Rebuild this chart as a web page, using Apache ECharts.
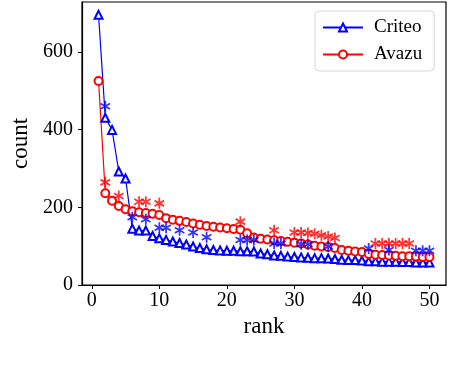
<!DOCTYPE html>
<html>
<head>
<meta charset="utf-8">
<script src="https://cdn.jsdelivr.net/npm/echarts@6/dist/echarts.min.js"></script>
<style>
  html, body { margin: 0; padding: 0; background: #fff; }
  #chart { width: 464px; height: 368px; }
</style>
</head>
<body>
<div id="chart"></div>
<script>
// rank on x, count on y
const ranks = [1, 2, 3, 4, 5, 6, 7, 8, 9, 10, 11, 12, 13, 14, 15, 16, 17, 18, 19, 20,
  21, 22, 23, 24, 25, 26, 27, 28, 29, 30, 31, 32, 33, 34, 35, 36, 37, 38, 39, 40,
  41, 42, 43, 44, 45, 46, 47, 48, 49, 50];
const criteo = [695, 430, 399, 292, 274, 145, 140, 140, 126, 120, 116, 112, 108, 104, 99, 95, 92, 90, 89, 88,
  88, 87, 87, 86, 81, 79, 76, 75, 73, 72, 71, 70, 69, 69, 68, 67, 65, 64, 64, 63,
  61, 61, 60, 60, 60, 59, 59, 58, 58, 58];
const avazu = [525, 236, 217, 203, 195, 190, 187, 185, 183, 180, 172, 168, 165, 162, 158, 155, 152, 150, 148, 146,
  144, 142, 133, 122, 119, 117, 115, 113, 111, 109, 107, 104, 101, 99, 98, 95, 90, 88, 86, 85,
  80, 78, 77, 76, 75, 74, 74, 73, 72, 72];
// asterisk marks [rank, count]
const criteoStars = [[2, 460], [6, 174], [8, 169], [10, 147], [11, 147], [13, 141], [15, 135], [17, 123],
  [22, 116], [23, 116], [24, 116], [27, 107], [28, 107], [31, 105], [32, 105], [35, 99],
  [41, 94], [44, 90], [48, 88], [49, 88], [50, 88]];
const avazuStars = [[2, 264], [4, 229], [7, 214], [8, 214], [10, 210], [22, 163], [27, 141],
  [30, 135], [31, 135], [32, 134], [33, 132], [34, 128], [35, 125], [36, 121],
  [42, 107], [43, 107], [44, 107], [45, 107], [46, 107], [47, 107]];
const xTicks = [0, 10, 20, 30, 40, 50];
const yTicks = [0, 200, 400, 600];

// six-armed asterisk as a path symbol
function asteriskPath() {
  const w = 0.16;
  let d = '';
  [90, 30, -30].forEach(function (deg) {
    const a = deg * Math.PI / 180;
    const ux = Math.cos(a), uy = Math.sin(a);
    const px = -uy * w, py = ux * w;
    const pts = [[ux + px, uy + py], [-ux + px, -uy + py], [-ux - px, -uy - py], [ux - px, uy - py]];
    d += 'M' + pts.map(function (p) { return p[0].toFixed(3) + ' ' + p[1].toFixed(3); }).join(' L') + ' Z ';
  });
  return 'path://' + d;
}

const font = 'Liberation Serif, DejaVu Serif, serif';
const chart = echarts.init(document.getElementById('chart'));

chart.setOption({
  animation: false,
  textStyle: { fontFamily: font, color: '#000' },
  grid: {
    left: 82, right: 18, top: 2, bottom: 83,
    outerBoundsMode: 'none',
    show: true, borderColor: '#000', borderWidth: 1.2, backgroundColor: 'transparent'
  },
  legend: {
    data: ['Criteo', 'Avazu'],
    orient: 'vertical',
    left: 315, top: 11,
    padding: [7, 12, 7, 7],
    itemWidth: 40, itemHeight: 10, itemGap: 8,
    backgroundColor: '#fff',
    borderColor: '#d6d6d6', borderWidth: 1, borderRadius: 4,
    textStyle: { fontFamily: font, fontSize: 19, color: '#000', padding: [0, 0, 0, 6] }
  },
  xAxis: {
    type: 'value',
    min: -1.45, max: 52.45,
    name: 'rank', nameLocation: 'middle', nameGap: 30,
    nameTextStyle: { fontFamily: font, fontSize: 23, color: '#000' },
    axisLine: { show: true, onZero: false, lineStyle: { color: '#000', width: 1.2 } },
    axisTick: { show: true, length: 4, customValues: xTicks, lineStyle: { color: '#000' } },
    axisLabel: { customValues: xTicks, margin: 6, fontSize: 20, color: '#000', fontFamily: font },
    splitLine: { show: false }
  },
  yAxis: {
    type: 'value',
    min: 0, max: 728,
    name: 'count', nameLocation: 'middle', nameGap: 42,
    nameTextStyle: { fontFamily: font, fontSize: 23, color: '#000' },
    axisLine: { show: true, onZero: false, lineStyle: { color: '#000', width: 1.2 } },
    axisTick: { show: true, length: 4, customValues: yTicks, lineStyle: { color: '#000' } },
    axisLabel: { customValues: yTicks, margin: 9, fontSize: 20, color: '#000', fontFamily: font },
    splitLine: { show: false }
  },
  series: [
    {
      name: 'Criteo', type: 'line',
      data: ranks.map(function (r, i) { return [r, criteo[i]]; }),
      color: '#0000ff',
      symbol: 'emptyTriangle', symbolSize: 8,
      lineStyle: { width: 1.2, color: '#0000ff' },
      itemStyle: { color: '#0000ff', borderWidth: 1.4 }
    },
    {
      name: 'Avazu', type: 'line',
      data: ranks.map(function (r, i) { return [r, avazu[i]]; }),
      color: '#ff0000',
      symbol: 'emptyCircle', symbolSize: 8,
      lineStyle: { width: 1.2, color: '#ff0000' },
      itemStyle: { color: '#ff0000', borderWidth: 1.8 }
    },
    {
      name: 'Criteo *', type: 'scatter',
      data: criteoStars,
      symbol: asteriskPath(), symbolSize: 11, symbolKeepAspect: true,
      itemStyle: { color: '#0000ff' },
      z: 4
    },
    {
      name: 'Avazu *', type: 'scatter',
      data: avazuStars,
      symbol: asteriskPath(), symbolSize: 11, symbolKeepAspect: true,
      itemStyle: { color: '#ff0000' },
      z: 3
    }
  ]
});
</script>
</body>
</html>
